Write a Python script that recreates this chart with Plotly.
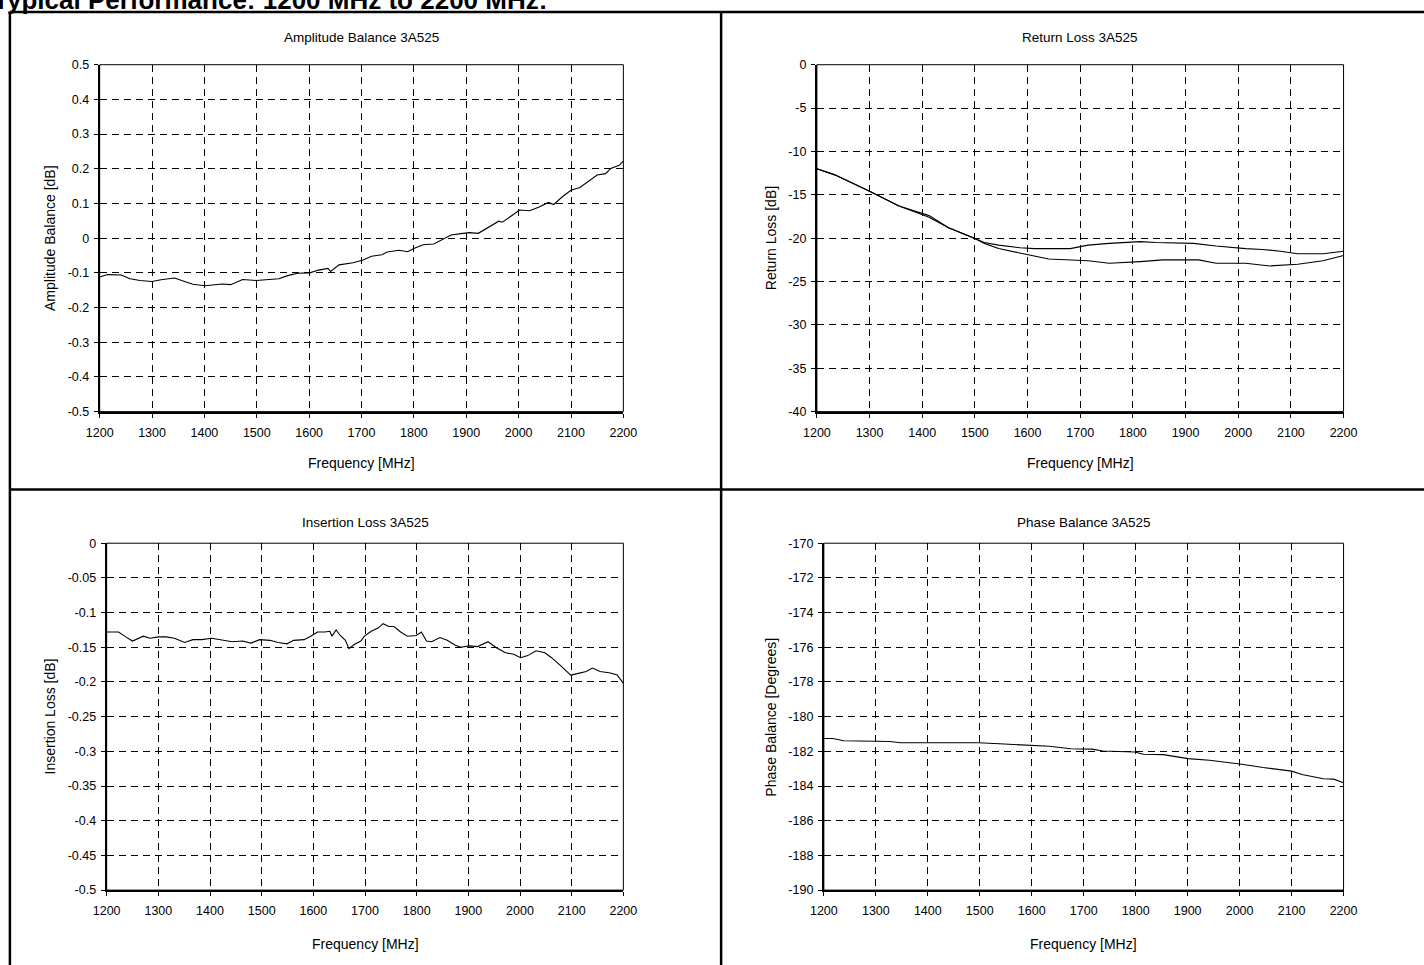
import plotly.graph_objects as go

W, H = 1424, 965

# ---------------- data ----------------
AMP_FREQ = [1200, 1215, 1241, 1258, 1277, 1300, 1317, 1343, 1362, 1378, 1401, 1421, 1434, 1450,
            1473, 1499, 1526, 1542, 1559, 1578, 1601, 1618, 1636, 1641, 1657, 1684, 1703, 1719,
            1739, 1749, 1772, 1788, 1802, 1818, 1838, 1854, 1871, 1890, 1906, 1923, 1939, 1962,
            1969, 1985, 2002, 2021, 2038, 2057, 2067, 2084, 2100, 2117, 2133, 2150, 2166, 2176,
            2192, 2200]
AMP_VAL = [-0.112, -0.105, -0.106, -0.117, -0.122, -0.125, -0.120, -0.115, -0.125, -0.133, -0.137,
           -0.134, -0.132, -0.134, -0.119, -0.122, -0.119, -0.117, -0.108, -0.101, -0.100, -0.092,
           -0.087, -0.096, -0.077, -0.071, -0.063, -0.052, -0.048, -0.040, -0.035, -0.039, -0.028,
           -0.019, -0.017, -0.005, 0.009, 0.013, 0.016, 0.014, 0.028, 0.049, 0.046, 0.063, 0.081,
           0.079, 0.089, 0.103, 0.097, 0.120, 0.138, 0.146, 0.163, 0.182, 0.186, 0.201, 0.210, 0.222]

RL_FREQ_A = [1200, 1234, 1300, 1356, 1413, 1450, 1499, 1518, 1545, 1586, 1613, 1654, 1681, 1715,
             1755, 1814, 1843, 1915, 1958, 2014, 2046, 2080, 2113, 2161, 2195, 2200]
RL_VAL_A = [-12.0, -12.7, -14.6, -16.3, -17.4, -18.8, -20.0, -20.5, -20.8, -21.1, -21.2, -21.2,
            -21.2, -20.8, -20.6, -20.4, -20.5, -20.6, -20.9, -21.2, -21.3, -21.5, -21.8, -21.8,
            -21.6, -21.5]
RL_FREQ_B = [1200, 1234, 1300, 1356, 1413, 1450, 1499, 1518, 1545, 1600, 1640, 1715, 1755, 1814,
             1857, 1925, 1958, 2014, 2060, 2113, 2161, 2200]
RL_VAL_B = [-12.0, -12.7, -14.6, -16.3, -17.6, -18.8, -20.0, -20.6, -21.2, -21.9, -22.4, -22.6,
            -22.9, -22.7, -22.5, -22.5, -22.9, -22.9, -23.2, -23.0, -22.6, -22.0]

IL_FREQ = [1200, 1223, 1237, 1250, 1271, 1284, 1301, 1315, 1331, 1351, 1367, 1384, 1403, 1423,
           1443, 1463, 1479, 1496, 1516, 1532, 1549, 1562, 1582, 1595, 1608, 1622, 1632, 1636,
           1644, 1652, 1662, 1669, 1679, 1692, 1699, 1712, 1726, 1735, 1746, 1756, 1769, 1782,
           1799, 1809, 1819, 1829, 1845, 1859, 1875, 1885, 1902, 1918, 1938, 1955, 1972, 1988,
           2001, 2015, 2031, 2048, 2061, 2078, 2098, 2111, 2128, 2140, 2155, 2175, 2188, 2200]
IL_VAL = [-0.128, -0.128, -0.135, -0.141, -0.134, -0.137, -0.135, -0.135, -0.137, -0.143, -0.139,
          -0.139, -0.137, -0.140, -0.142, -0.141, -0.144, -0.139, -0.140, -0.143, -0.145, -0.140,
          -0.139, -0.134, -0.128, -0.128, -0.127, -0.134, -0.125, -0.133, -0.140, -0.152, -0.146,
          -0.141, -0.134, -0.127, -0.122, -0.116, -0.120, -0.120, -0.128, -0.134, -0.133, -0.128,
          -0.141, -0.142, -0.136, -0.140, -0.147, -0.150, -0.148, -0.149, -0.142, -0.151, -0.158,
          -0.160, -0.165, -0.162, -0.155, -0.158, -0.165, -0.176, -0.190, -0.188, -0.185, -0.180,
          -0.185, -0.187, -0.190, -0.202]

PH_FREQ = [1200, 1217, 1238, 1279, 1327, 1347, 1388, 1429, 1497, 1538, 1593, 1634, 1675, 1716,
           1737, 1798, 1815, 1853, 1901, 1942, 2004, 2045, 2100, 2120, 2161, 2181, 2200]
PH_VAL = [-181.26, -181.26, -181.39, -181.39, -181.43, -181.50, -181.50, -181.54, -181.50, -181.56,
          -181.66, -181.71, -181.85, -181.87, -181.98, -182.04, -182.17, -182.19, -182.42, -182.51,
          -182.74, -182.93, -183.14, -183.33, -183.58, -183.60, -183.81]

FREQ_TICKS = [1200, 1300, 1400, 1500, 1600, 1700, 1800, 1900, 2000, 2100, 2200]
AMP_TICKS = [0.5, 0.4, 0.3, 0.2, 0.1, 0, -0.1, -0.2, -0.3, -0.4, -0.5]
AMP_LABELS = ["0.5", "0.4", "0.3", "0.2", "0.1", "0", "-0.1", "-0.2", "-0.3", "-0.4", "-0.5"]
RL_TICKS = [0, -5, -10, -15, -20, -25, -30, -35, -40]
RL_LABELS = ["0", "-5", "-10", "-15", "-20", "-25", "-30", "-35", "-40"]
IL_TICKS = [0, -0.05, -0.1, -0.15, -0.2, -0.25, -0.3, -0.35, -0.4, -0.45, -0.5]
IL_LABELS = ["0", "-0.05", "-0.1", "-0.15", "-0.2", "-0.25", "-0.3", "-0.35", "-0.4", "-0.45", "-0.5"]
PH_TICKS = [-170, -172, -174, -176, -178, -180, -182, -184, -186, -188, -190]
PH_LABELS = ["-170", "-172", "-174", "-176", "-178", "-180", "-182", "-184", "-186", "-188", "-190"]

PAGE_TITLE = "Typical Performance: 1200 MHz to 2200 MHz:"
TITLES = ["Amplitude Balance 3A525", "Return Loss 3A525", "Insertion Loss 3A525", "Phase Balance 3A525"]
YTITLES = ["Amplitude Balance [dB]", "Return Loss [dB]", "Insertion Loss [dB]", "Phase Balance [Degrees]"]
XTITLE = "Frequency [MHz]"

# ---------------- layout helpers ----------------
FONT = "Liberation Sans, Arial, sans-serif"

# correction for the way the page is photographed (measured from a test render)
SX, BX = 0.9828, 12.1
SY, BY = 0.9886, 5.1


def px(x):
    return ((x - BX) / SX) / W


def py(y):
    return 1 - ((y - BY) / SY) / H


# target plot areas in picture pixels: (left, right, top, bottom)
AREAS = [(98, 623, 63, 411), (817, 1345, 63, 411), (105, 623, 543, 891), (824, 1345, 543, 891)]
YTITLE_X = [48, 771, 48, 771]
TITLE_Y = [36, 36, 522, 522]
XTITLE_Y = [463, 463, 945, 945]
YRANGES = [(-0.5, 0.5), (-40, 0), (-0.5, 0), (-190, -170)]
YTICKS = [(AMP_TICKS, AMP_LABELS), (RL_TICKS, RL_LABELS), (IL_TICKS, IL_LABELS), (PH_TICKS, PH_LABELS)]

fig = go.Figure()

series = [
    (0, AMP_FREQ, AMP_VAL),
    (1, RL_FREQ_A, RL_VAL_A),
    (1, RL_FREQ_B, RL_VAL_B),
    (2, IL_FREQ, IL_VAL),
    (3, PH_FREQ, PH_VAL),
]
for idx, xs, ys in series:
    sfx = "" if idx == 0 else str(idx + 1)
    fig.add_trace(go.Scatter(x=xs, y=ys, mode="lines", xaxis="x" + sfx, yaxis="y" + sfx,
                             line=dict(color="black", width=1.1), showlegend=False,
                             hoverinfo="skip"))

layout = dict(width=W, height=H, margin=dict(l=0, r=0, t=0, b=0),
              paper_bgcolor="white", plot_bgcolor="white", showlegend=False,
              font=dict(family=FONT, color="black", size=12.5))

TICKFONT = dict(size=12.5, family=FONT, color="black")
TITLEFONT = dict(size=13.5, family=FONT, color="black")
AXTITLEFONT = dict(size=14, family=FONT, color="black")
annotations = []
shapes = []
for i, (l, r, t, b) in enumerate(AREAS):
    sfx = "" if i == 0 else str(i + 1)
    xname = "xaxis" + sfx
    yname = "yaxis" + sfx
    tv, tt = YTICKS[i]
    layout[xname] = dict(domain=[px(l), px(r)], anchor="y" + sfx, range=[1200, 2200],
                         tickvals=FREQ_TICKS, ticktext=[str(v) for v in FREQ_TICKS],
                         showline=True, linecolor="black", linewidth=2,
                         ticks="outside", ticklen=4, tickcolor="black", tickwidth=1,
                         ticklabelstandoff=4,
                         showgrid=True, gridcolor="black", gridwidth=1, griddash="7px,5px",
                         zeroline=False, tickfont=TICKFONT)
    layout[yname] = dict(domain=[py(b), py(t)], anchor="x" + sfx, range=list(YRANGES[i]),
                         tickvals=tv, ticktext=tt,
                         showline=True, linecolor="black", linewidth=2,
                         ticks="outside", ticklen=4, tickcolor="black", tickwidth=1,
                         ticklabelstandoff=2,
                         showgrid=True, gridcolor="black", gridwidth=1, griddash="7px,5px",
                         zeroline=False, tickfont=TICKFONT)
    # thin border around plot area (top / right)
    shapes.append(dict(type="rect", xref="x" + sfx + " domain", yref="y" + sfx + " domain",
                       x0=0, x1=1, y0=0, y1=1, line=dict(color="black", width=1), layer="above"))
    annotations.append(dict(text=TITLES[i], xref="paper", yref="paper", x=px((l + r) / 2),
                            y=py(TITLE_Y[i]), showarrow=False, xanchor="center", yanchor="middle",
                            font=TITLEFONT))
    annotations.append(dict(text=XTITLE, xref="paper", yref="paper", x=px((l + r) / 2),
                            y=py(XTITLE_Y[i]), showarrow=False, xanchor="center", yanchor="middle",
                            font=AXTITLEFONT))
    annotations.append(dict(text=YTITLES[i], xref="paper", yref="paper", x=px(YTITLE_X[i]),
                            y=py((t + b) / 2), showarrow=False, xanchor="center", yanchor="middle",
                            textangle=-90, font=AXTITLEFONT))

# page title, partly cut off at the top of the page
annotations.append(dict(text="<b>" + PAGE_TITLE + "</b>", xref="paper", yref="paper",
                        x=px(-11), y=py(15), showarrow=False, xanchor="left", yanchor="bottom",
                        font=dict(size=26, family=FONT, color="black")))

# page frame lines
frame = [(8, 10, W + 30, 10), (8, 10, 8, H + 30), (721, 10, 721, H + 30), (8, 489, W + 30, 489)]
for x0, y0, x1, y1 in frame:
    shapes.append(dict(type="line", xref="paper", yref="paper", x0=px(x0), y0=py(y0),
                       x1=px(x1), y1=py(y1), line=dict(color="black", width=2.5)))

layout["annotations"] = annotations
layout["shapes"] = shapes
fig.update_layout(**layout)
fig.write_html("out.html", config={"displayModeBar": False},
               post_script="document.body.style.margin='0';document.body.style.overflow='hidden';")
